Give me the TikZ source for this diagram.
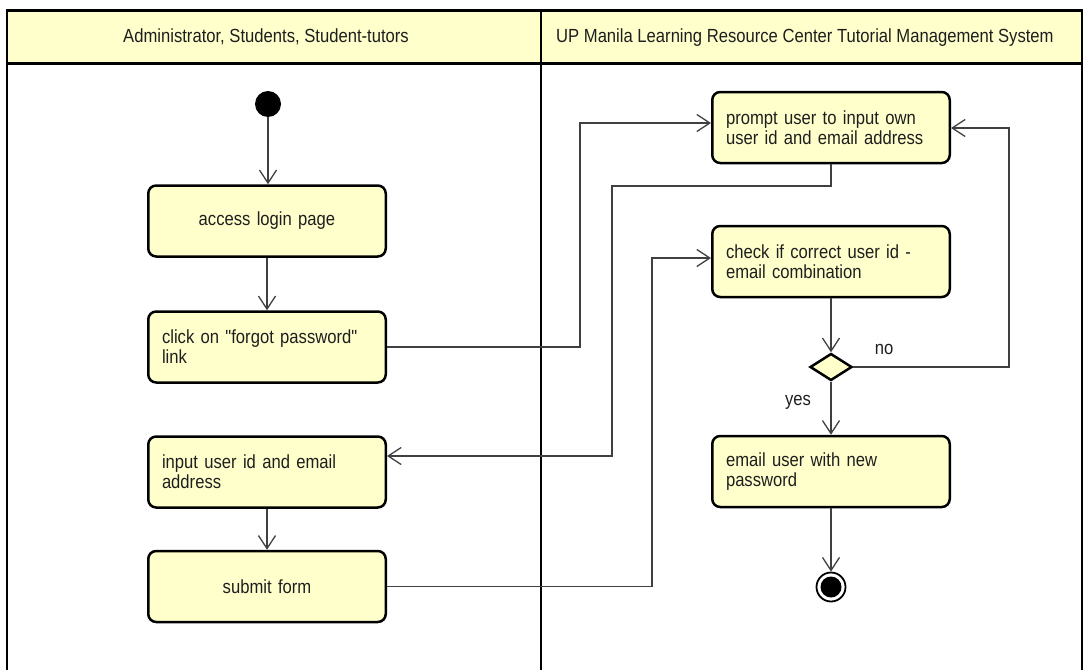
\documentclass[tikz,border=0pt]{standalone}
\usepackage{fontspec}
\setmainfont{Liberation Sans}[FakeStretch=0.875,Ligatures=TeXOff]
\usetikzlibrary{arrows.meta,shapes.geometric}
\definecolor{boxfill}{RGB}{255,255,204}
\definecolor{conncol}{RGB}{64,64,64}
\definecolor{txtcol}{RGB}{30,30,30}
\begin{document}
\begin{tikzpicture}[x=1pt,y=-1pt,
  every node/.style={font=\fontsize{19}{20}\selectfont, text=txtcol},
  act/.style={draw=black, line width=2.5pt, fill=boxfill, rounded corners=8pt,
    minimum width=237.5pt, minimum height=71pt, inner sep=0pt, text width=210pt, align=left},
  actc/.style={act, align=center},
  conn/.style={draw=conncol, line width=1.3pt},
  arr/.style={conn, -{Straight Barb[length=13pt,width=17pt]}},
  lane/.style={line width=2.5pt, draw=black},
  lbl/.style={inner sep=0pt}]
\useasboundingbox (0,0) rectangle (1086,669);
% swimlane frame
\fill[boxfill] (7,10.5) rectangle (1082,63.5);
\draw[lane] (7,690) -- (7,10.5) -- (1082,10.5) -- (1082,690);
\draw[lane] (7,63.5) -- (1082,63.5);
\draw[lane] (541,10.5) -- (541,690);
\node[lbl, anchor=base] (h1) at (266,43) {Administrator, Students, Student-tutors};
\node[lbl, anchor=base west] (h2) at (556,43) {UP Manila Learning Resource Center Tutorial Management System};
% nodes
\node[circle, fill=black, minimum size=26pt, inner sep=0pt] (start) at (268,104) {};
\node[actc] (acc) at (267,221) {access login page};
\node[act] (clk) at (267,347) {click on "forgot password"\\link};
\node[act] (inp) at (267,472) {input user id and email\\address};
\node[actc] (sub) at (267,586.5) {submit form};
\node[act] (prm) at (831,127.5) {prompt user to input own\\user id and email address};
\node[act] (chk) at (831,261.5) {check if correct user id -\\email combination};
\node[diamond, draw=black, line width=2.5pt, fill=boxfill, minimum width=42pt, minimum height=27pt, inner sep=0pt] (dia) at (831,367) {};
\node[act] (eml) at (831,471.5) {email user with new\\password};
\node[circle, draw=black, line width=1.8pt, fill=white, minimum size=29pt, inner sep=0pt] (fin) at (831,587) {};
\fill[black] (fin.center) circle[radius=10.5pt];
\node[lbl] (no) at (884,349) {no};
\node[lbl] (yes) at (798,402) {yes};
% helper coordinates
\coordinate (c1) at (580,123);
\coordinate (c2) at (612,186);
\coordinate (c3) at (612,456);
\coordinate (c4) at (652,258);
\coordinate (c5) at (1009,128);
% connectors
\draw[arr] (start.south) -- (start |- acc.north);
\draw[arr] (acc) -- (clk);
\draw[arr] (clk.east) -| (c1) -- (c1 -| prm.west);
\draw[arr] (prm.south) |- (c2) -- (c3) -- (c3 -| inp.east);
\draw[arr] (inp) -- (sub);
\draw[arr] (sub.east) -| (c4) -- (c4 -| chk.west);
\draw[arr] (chk) -- (dia);
\draw[arr] (dia.east) -| (c5) -- (c5 -| prm.east);
\draw[arr] (dia) -- (eml);
\draw[arr] (eml) -- (fin);
\end{tikzpicture}
\end{document}
